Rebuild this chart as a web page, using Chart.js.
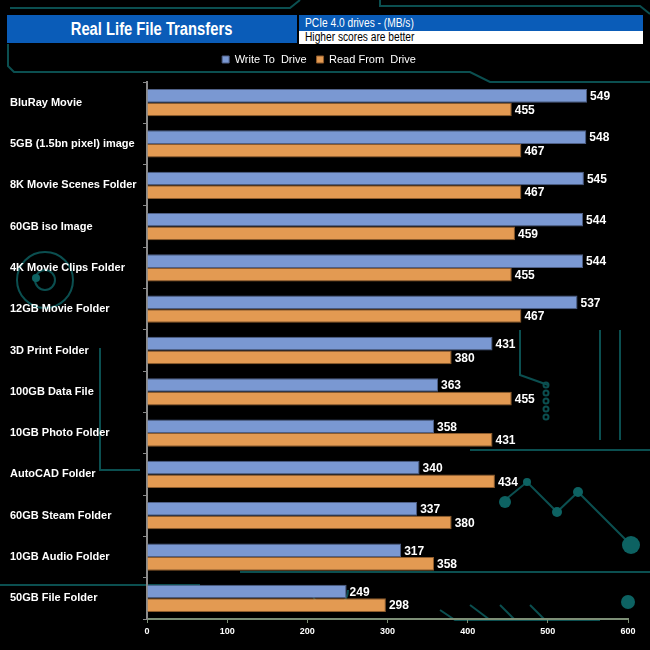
<!DOCTYPE html>
<html>
<head>
<meta charset="utf-8">
<script src="https://cdn.jsdelivr.net/npm/chart.js@4.4.1/dist/chart.umd.min.js"></script>
<style>
  body { margin: 0; background: #000; }
  #wrap { position: relative; width: 650px; height: 650px; background: #000; font-family: "Liberation Sans", Arial, sans-serif; }
  #titleBox { position: absolute; left: 7px; top: 15px; width: 290px; height: 28px; background: #0a5cb8;
    color: #fff; font-weight: bold; font-size: 18px; line-height: 28px; text-align: center; z-index: 2; }
  #titleBox span { display: inline-block; transform: scaleX(0.82); }
  #subBox { position: absolute; left: 298px; top: 14px; width: 344px; height: 29px; border: 1px solid #000; z-index: 2; }
  #subTop { height: 16px; background: #0a5cb8; color: #fff; font-size: 12px; line-height: 16px; padding-left: 6px; }
  #subBot { height: 13px; background: #fff; color: #000; font-size: 12px; line-height: 13px; padding-left: 6px; }
  #subBox span { display: inline-block; transform: scaleX(0.85); transform-origin: left center; }
  canvas { position: absolute; left: 0; top: 0; }
</style>
</head>
<body>
<div id="wrap">
  <canvas id="barChart" width="650" height="650"></canvas>
  <div id="titleBox"><span>Real Life File Transfers</span></div>
  <div id="subBox">
    <div id="subTop"><span>PCIe 4.0 drives - (MB/s)</span></div>
    <div id="subBot"><span>Higher scores are better</span></div>
  </div>
</div>
<script>
let categories = ["BluRay Movie", "5GB (1.5bn pixel) image", "8K Movie Scenes Folder", "60GB iso Image",
  "4K Movie Clips Folder", "12GB Movie Folder", "3D Print Folder", "100GB Data File", "10GB Photo Folder",
  "AutoCAD Folder", "60GB Steam Folder", "10GB Audio Folder", "50GB File Folder"];
let writeToDrive = [549, 548, 545, 544, 544, 537, 431, 363, 358, 340, 337, 317, 249];
let readFromDrive = [455, 467, 467, 459, 455, 467, 380, 455, 431, 434, 380, 358, 298];
let xTicks = [0, 100, 200, 300, 400, 500, 600];

// circuit board style backdrop
let backdrop = {
  id: "backdrop",
  beforeDraw(chart) {
    let c = chart.ctx;
    c.save();
    c.fillStyle = "#000";
    c.fillRect(0, 0, 650, 650);
    c.strokeStyle = "#0b4f50";
    c.lineWidth = 2;
    let path = (pts) => { c.beginPath(); c.moveTo(pts[0][0], pts[0][1]); pts.slice(1).forEach(p => c.lineTo(p[0], p[1])); c.stroke(); };
    path([[8, 44], [8, 66], [14, 72], [470, 72], [490, 82], [650, 82]]);
    path([[380, 0], [380, 6], [640, 6], [650, 14]]);
    path([[300, 0], [290, 8], [10, 8]]);
    path([[0, 585], [200, 585]]);
    path([[240, 572], [650, 572]]);
    path([[100, 348], [100, 470], [140, 470]]);
    path([[520, 330], [520, 375], [548, 385]]);
    path([[600, 330], [600, 440]]);
    path([[620, 330], [620, 440]]);
    path([[470, 450], [650, 450]]);
    path([[440, 610], [455, 620], [600, 620]]);
    path([[470, 605], [490, 620]]);
    path([[500, 605], [515, 620]]);
    path([[530, 605], [545, 620]]);
    path([[505, 500], [527, 482], [557, 512], [578, 492], [631, 545]]);
    c.beginPath(); c.arc(45, 280, 28, 0, Math.PI * 2); c.stroke();
    c.beginPath(); c.arc(45, 280, 10, 0, Math.PI * 2); c.stroke();
    c.beginPath(); c.arc(330, 590, 18, 0, Math.PI); c.stroke();
    c.fillStyle = "#0d6262";
    [[546, 385], [546, 393], [546, 401], [546, 409], [546, 417]].forEach(p => {
      c.beginPath(); c.arc(p[0], p[1], 2.5, 0, Math.PI * 2); c.stroke();
    });
    [[505, 502, 6], [527, 482, 4], [557, 512, 5], [578, 492, 5], [631, 545, 9], [628, 602, 7], [36, 278, 4]].forEach(p => {
      c.beginPath(); c.arc(p[0], p[1], p[2], 0, Math.PI * 2); c.fill();
    });
    c.restore();
  }
};

// value printed at the end of each bar
let barValues = {
  id: "barValues",
  afterDatasetsDraw(chart) {
    let c = chart.ctx;
    c.save();
    c.fillStyle = "#fff";
    c.font = "bold 12px 'Liberation Sans', Arial, sans-serif";
    c.textBaseline = "middle";
    c.textAlign = "left";
    chart.data.datasets.forEach((ds, i) => {
      chart.getDatasetMeta(i).data.forEach((bar, j) => {
        c.fillText(ds.data[j], bar.x + 3, bar.y + 1);
      });
    });
    c.restore();
  }
};

// push the plot area down below the legend
let legendGap = {
  id: "legendGap",
  beforeInit(chart) {
    let fit = chart.legend.fit;
    chart.legend.fit = function () { fit.bind(chart.legend)(); this.height += 7; };
  }
};

let ctx = document.getElementById("barChart").getContext("2d");
let barChart = new Chart(ctx, {
  type: "bar",
  data: {
    labels: categories,
    datasets: [{
      label: "Write To  Drive",
      data: writeToDrive,
      backgroundColor: "#7a98d2",
      borderColor: "#4e5f86",
      borderWidth: 1,
      categoryPercentage: 0.66,
      barPercentage: 1.0
    }, {
      label: "Read From  Drive",
      data: readFromDrive,
      backgroundColor: "#e39a52",
      borderColor: "#8d5b2c",
      borderWidth: 1,
      categoryPercentage: 0.66,
      barPercentage: 1.0
    }]
  },
  options: {
    indexAxis: "y",
    responsive: false,
    animation: false,
    layout: { padding: { top: 44, left: 10, right: 22, bottom: 11 } },
    plugins: {
      legend: {
        position: "top",
        labels: {
          color: "#fff",
          boxWidth: 7,
          boxHeight: 7,
          padding: 10,
          font: { size: 11, family: "'Liberation Sans', Arial, sans-serif" }
        }
      },
      tooltip: { enabled: false }
    },
    scales: {
      x: {
        min: 0,
        max: 600,
        afterBuildTicks(axis) { axis.ticks = xTicks.map(v => ({ value: v })); },
        afterFit(axis) { axis.height = 20; },
        border: { color: "#7d8f76", width: 2 },
        grid: { drawOnChartArea: false, color: "#7d8f76", tickLength: 4 },
        ticks: { color: "#fff", padding: 3, font: { size: 9, weight: "bold", family: "'Liberation Sans', Arial, sans-serif" } }
      },
      y: {
        afterFit(axis) { axis.width = 137; },
        border: { color: "#8a8a8a", width: 2 },
        grid: { drawOnChartArea: false, color: "#8a8a8a", tickLength: 4, offset: true },
        ticks: {
          color: "#fff",
          crossAlign: "far",
          font: { size: 11, weight: "bold", family: "'Liberation Sans', Arial, sans-serif" }
        }
      }
    }
  },
  plugins: [backdrop, barValues, legendGap]
});
</script>
</body>
</html>
